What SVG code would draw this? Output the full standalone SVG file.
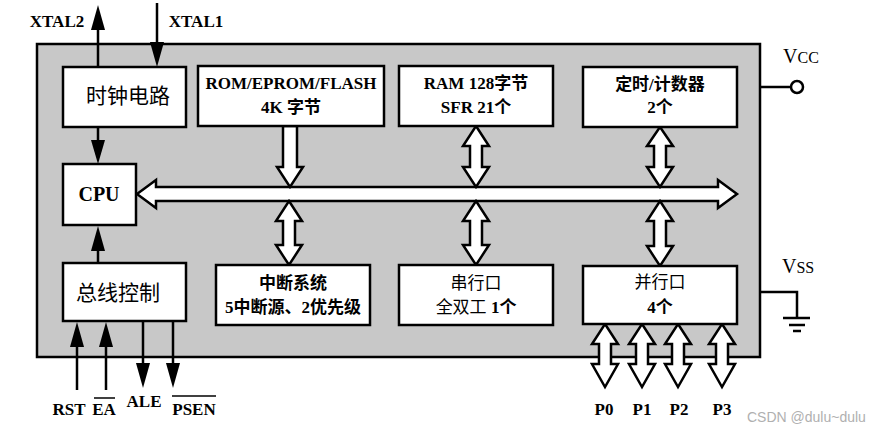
<svg xmlns="http://www.w3.org/2000/svg" width="881" height="433" viewBox="0 0 881 433">
<style>
.box{fill:#fff;stroke:#000;stroke-width:2.5}
.fat{fill:#fff;stroke:#000;stroke-width:2.5;stroke-linejoin:miter}
.ln{stroke:#000;stroke-width:2.5;fill:none}
.hd{fill:#000}
.t{font-family:"Liberation Serif","Noto Sans CJK SC",serif;font-weight:bold;font-size:17px;text-anchor:middle;fill:#000}
.n{font-weight:normal}
.big{font-family:"Liberation Serif","Noto Sans CJK SC",serif;font-size:21px;text-anchor:middle;fill:#000}
.lbl{font-family:"Liberation Serif",serif;font-weight:bold;font-size:17px;text-anchor:middle;fill:#000}
.v{font-family:"Liberation Serif",serif;font-size:20px;fill:#000}
</style>
<rect width="881" height="433" fill="#fff"/>
<g id="chip"><rect x="37" y="44" width="723" height="313" fill="#c8c8c8" stroke="#000" stroke-width="2.5"/></g>

<g id="connectors">
<line class="ln" x1="98" y1="67" x2="98" y2="28"/><polygon class="hd" points="98,5 91,30 105,30"/>
<line class="ln" x1="157" y1="3" x2="157" y2="44"/><polygon class="hd" points="157,67 150,42 164,42"/>
<line class="ln" x1="98" y1="127" x2="98" y2="142"/><polygon class="hd" points="98,164 91,140 105,140"/>
<line class="ln" x1="98" y1="263" x2="98" y2="249"/><polygon class="hd" points="98,226 91,251 105,251"/>
<line class="ln" x1="77" y1="390" x2="77" y2="345"/><polygon class="hd" points="77,322 70,347 84,347"/>
<line class="ln" x1="106" y1="390" x2="106" y2="345"/><polygon class="hd" points="106,322 99,347 113,347"/>
<line class="ln" x1="143" y1="321" x2="143" y2="365"/><polygon class="hd" points="143,388 136,363 150,363"/>
<line class="ln" x1="173" y1="321" x2="173" y2="365"/><polygon class="hd" points="173,388 166,363 180,363"/>
<polygon class="fat" points="137,194 156,180 156,187 718,187 718,180 737,194 718,208 718,201 156,201 156,208"/>
<polygon class="fat" points="283,126 297,126 297,167 303,167 290,187 277,167 283,167"/>
<polygon class="fat" points="476,126 489,146 482,146 482,167 489,167 476,187 463,167 470,167 470,146 463,146"/>
<polygon class="fat" points="660,127 673,146 666,146 666,167 673,167 660,187 647,167 654,167 654,146 647,146"/>
<polygon class="fat" points="289,201 302,221 295,221 295,245 302,245 289,265 276,245 283,245 283,221 276,221"/>
<polygon class="fat" points="476,201 489,221 482,221 482,245 489,245 476,265 463,245 470,245 470,221 463,221"/>
<polygon class="fat" points="660,201 673,221 666,221 666,246 673,246 660,266 647,246 654,246 654,221 647,221"/>
<polygon class="fat" points="605,324 618,344 611,344 611,364 618,364 605,387 592,364 599,364 599,344 592,344"/>
<polygon class="fat" points="642,324 655,344 648,344 648,364 655,364 642,387 629,364 636,364 636,344 629,344"/>
<polygon class="fat" points="678,324 691,344 684,344 684,364 691,364 678,387 665,364 672,364 672,344 665,344"/>
<polygon class="fat" points="722,324 735,344 728,344 728,364 735,364 722,387 709,364 716,364 716,344 709,344"/>
<line class="ln" x1="760" y1="87" x2="791" y2="87"/><circle cx="797" cy="87" r="6" fill="#fff" stroke="#000" stroke-width="2.5"/>
<polyline class="ln" points="760,292 797,292 797,318"/>
<line class="ln" x1="783" y1="318" x2="810" y2="318"/>
<line class="ln" x1="789" y1="325" x2="805" y2="325"/>
<line class="ln" x1="793" y1="331" x2="801" y2="331"/>
</g>

<g id="clock"><rect class="box" x="63" y="67" width="123" height="60"/><text class="big" x="128" y="103">时钟电路</text></g>
<g id="cpu"><rect class="box" x="63" y="164" width="73" height="61"/><text class="t" x="99" y="201" style="font-size:20px">CPU</text></g>
<g id="busctl"><rect class="box" x="63" y="263" width="123" height="58"/><text class="big" x="118" y="300">总线控制</text></g>
<g id="rom"><rect class="box" x="198" y="66" width="186" height="60"/><text class="t" x="291" y="89">ROM/EPROM/FLASH</text><text class="t" x="291" y="113">4K 字节</text></g>
<g id="ram"><rect class="box" x="399" y="66" width="154" height="60"/><text class="t" x="476" y="89">RAM 128字节</text><text class="t" x="476" y="113">SFR 21个</text></g>
<g id="timer"><rect class="box" x="583" y="67" width="154" height="60"/><text class="t" x="660" y="90">定时/计数器</text><text class="t" x="660" y="113">2个</text></g>
<g id="int"><rect class="box" x="216" y="265" width="154" height="60"/><text class="t" x="293" y="289">中断系统</text><text class="t" x="293" y="313">5中断源、2优先级</text></g>
<g id="serial"><rect class="box" x="399" y="265" width="154" height="60"/><text class="t n" x="476" y="289">串行口</text><text class="t" x="476" y="313"><tspan class="n">全双工</tspan>  1个</text></g>
<g id="parallel"><rect class="box" x="583" y="266" width="154" height="58"/><text class="t n" x="660" y="288">并行口</text><text class="t" x="660" y="313">4个</text></g>

<g id="labels">
<text class="lbl" x="57" y="27">XTAL2</text>
<text class="lbl" x="196" y="27">XTAL1</text>
<text class="lbl" x="69" y="415">RST</text>
<text class="lbl" x="104" y="415">EA</text><line x1="94" y1="398" x2="115" y2="398" stroke="#000" stroke-width="1.5"/>
<text class="lbl" x="144" y="407">ALE</text>
<text class="lbl" x="194" y="415">PSEN</text><line x1="172" y1="396" x2="216" y2="396" stroke="#000" stroke-width="1.5"/>
<text class="lbl" x="604" y="415">P0</text>
<text class="lbl" x="642" y="415">P1</text>
<text class="lbl" x="679" y="415">P2</text>
<text class="lbl" x="722" y="415">P3</text>
<text class="v" x="783" y="63">V<tspan font-size="16">CC</tspan></text>
<text class="v" x="782" y="273">V<tspan font-size="16">SS</tspan></text>
<text x="747" y="422" style="font-family:'Liberation Sans',sans-serif;font-size:14px;fill:#b0b0b0">CSDN @dulu~dulu</text>
</g>
</svg>
